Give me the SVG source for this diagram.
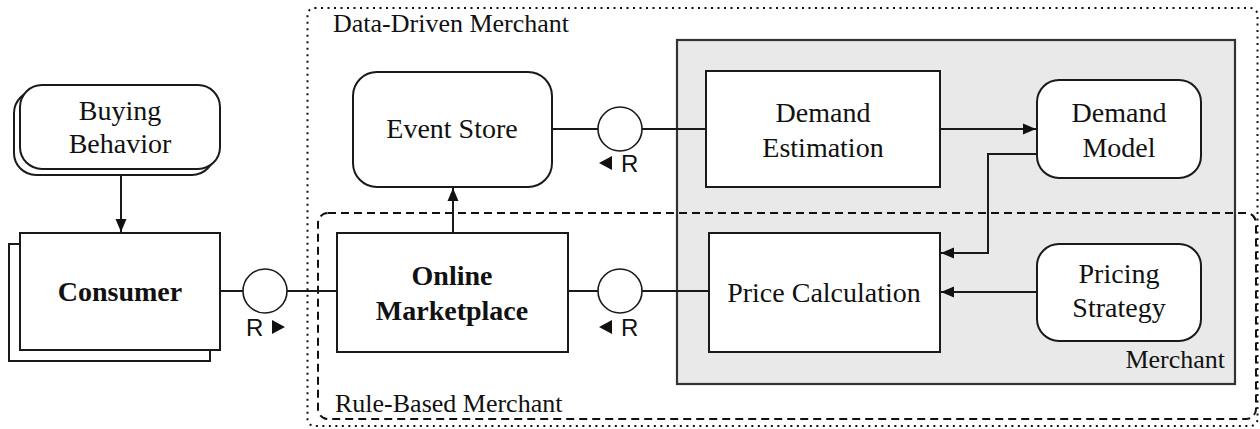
<svg xmlns="http://www.w3.org/2000/svg" width="1260" height="429" viewBox="0 0 1260 429">
  <style>
    .node { fill: #ffffff; stroke: #1a1a1a; stroke-width: 2; }
    .lbl { font-family: "Liberation Serif", "Times New Roman", serif; font-size: 28px; fill: #111; text-anchor: middle; }
    .bold { font-weight: bold; }
    .area { font-family: "Liberation Serif", "Times New Roman", serif; font-size: 26px; fill: #111; }
    .role { font-family: "Liberation Sans", Arial, sans-serif; font-size: 24px; fill: #111; }
    .wire { fill: none; stroke: #1a1a1a; stroke-width: 2; }
    .arrow { fill: none; stroke: #1a1a1a; stroke-width: 2; marker-end: url(#head); }
    .port { fill: #ffffff; stroke: #1a1a1a; stroke-width: 1.6; }
    .tri { fill: #111; }
  </style>
  <defs>
    <marker id="head" markerUnits="userSpaceOnUse" markerWidth="14" markerHeight="12" refX="13" refY="6" orient="auto">
      <path d="M0,0.5 L13,6 L0,11.5 z" fill="#111"/>
    </marker>
  </defs>

  <rect width="1260" height="429" fill="#ffffff"/>

  <!-- Merchant area (shaded) -->
  <g id="merchant">
    <rect x="677" y="40" width="558" height="344" fill="#e9e9e9" stroke="#333" stroke-width="2.2"/>
    <text class="area" x="1225" y="368" text-anchor="end">Merchant</text>
  </g>

  <!-- Data-Driven Merchant boundary -->
  <g id="data-driven-merchant">
    <rect x="307.5" y="8" width="950" height="418" rx="7" fill="none" stroke="#111" stroke-width="2" stroke-dasharray="2 4.5"/>
    <text class="area" x="333" y="32">Data-Driven Merchant</text>
  </g>

  <!-- Rule-Based Merchant boundary -->
  <g id="rule-based-merchant">
    <rect x="318" y="213" width="938" height="206" rx="10" fill="none" stroke="#111" stroke-width="2" stroke-dasharray="8 5"/>
    <text class="area" x="335" y="412">Rule-Based Merchant</text>
  </g>

  <!-- Connectors -->
  <g id="connectors">
    <line class="arrow" x1="121" y1="175" x2="121" y2="232"/>
    <line class="wire" x1="220" y1="291" x2="337" y2="291"/>
    <line class="arrow" x1="453" y1="233" x2="453" y2="188"/>
    <line class="wire" x1="552" y1="129" x2="706" y2="129"/>
    <line class="arrow" x1="940" y1="129" x2="1036" y2="129"/>
    <polyline class="arrow" points="1037,154 988,154 988,253 941,253"/>
    <line class="arrow" x1="1037" y1="292" x2="941" y2="292"/>
    <line class="wire" x1="568" y1="291" x2="709" y2="291"/>
  </g>

  <!-- Buying Behavior (stacked) -->
  <g id="buying-behavior">
    <rect class="node" x="14" y="91" width="200" height="84" rx="22"/>
    <rect class="node" x="20" y="85" width="200" height="84" rx="22"/>
    <text class="lbl" x="120" y="120">Buying</text>
    <text class="lbl" x="120" y="153">Behavior</text>
  </g>

  <!-- Consumer (stacked) -->
  <g id="consumer">
    <rect class="node" x="9" y="244" width="201" height="117"/>
    <rect class="node" x="20" y="233" width="200" height="117"/>
    <text class="lbl bold" x="120" y="301">Consumer</text>
  </g>

  <!-- Port between Consumer and Online Marketplace -->
  <g id="port-consumer">
    <circle class="port" cx="265" cy="291" r="22"/>
    <text class="role" x="246" y="336">R</text>
    <path class="tri" d="M272,320 L285,327 L272,334 z"/>
  </g>

  <!-- Online Marketplace -->
  <g id="online-marketplace">
    <rect class="node" x="337" y="233" width="231" height="119"/>
    <text class="lbl bold" x="452" y="285">Online</text>
    <text class="lbl bold" x="452" y="320">Marketplace</text>
  </g>

  <!-- Event Store -->
  <g id="event-store">
    <rect class="node" x="353" y="72" width="199" height="115" rx="24"/>
    <text class="lbl" x="452" y="138">Event Store</text>
  </g>

  <!-- Port between Event Store and Demand Estimation -->
  <g id="port-event">
    <circle class="port" cx="620" cy="129" r="22"/>
    <path class="tri" d="M612,156 L599,163 L612,170 z"/>
    <text class="role" x="621" y="172">R</text>
  </g>

  <!-- Port between Online Marketplace and Price Calculation -->
  <g id="port-price">
    <circle class="port" cx="620" cy="291" r="22"/>
    <path class="tri" d="M612,320 L599,327 L612,334 z"/>
    <text class="role" x="621" y="336">R</text>
  </g>

  <!-- Demand Estimation -->
  <g id="demand-estimation">
    <rect class="node" x="706" y="71" width="234" height="116"/>
    <text class="lbl" x="823" y="122">Demand</text>
    <text class="lbl" x="823" y="157">Estimation</text>
  </g>

  <!-- Demand Model -->
  <g id="demand-model">
    <rect class="node" x="1037" y="80" width="164" height="98" rx="22"/>
    <text class="lbl" x="1119" y="122">Demand</text>
    <text class="lbl" x="1119" y="157">Model</text>
  </g>

  <!-- Price Calculation -->
  <g id="price-calculation">
    <rect class="node" x="709" y="233" width="231" height="119"/>
    <text class="lbl" x="824" y="302">Price Calculation</text>
  </g>

  <!-- Pricing Strategy -->
  <g id="pricing-strategy">
    <rect class="node" x="1037" y="244" width="164" height="97" rx="22"/>
    <text class="lbl" x="1119" y="283">Pricing</text>
    <text class="lbl" x="1119" y="317">Strategy</text>
  </g>
</svg>
